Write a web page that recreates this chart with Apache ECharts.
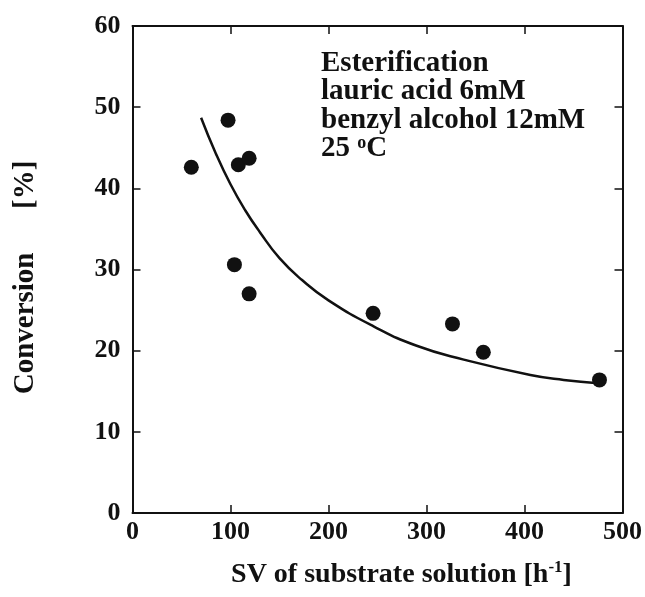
<!DOCTYPE html>
<html>
<head>
<meta charset="utf-8">
<script src="https://cdn.jsdelivr.net/npm/echarts@6/dist/echarts.min.js"></script>
<style>html,body{margin:0;padding:0;background:#fff}#c{width:645px;height:597px}</style>
</head>
<body>
<div id="c"></div>
<script>
// measured points: SV [h^-1], conversion [%]
const svValues = [60, 97.5, 108, 119, 104, 119, 245.5, 326.5, 358, 476.5];
const conversionValues = [42.6, 48.4, 42.9, 43.7, 30.6, 27.0, 24.6, 23.3, 19.8, 16.4];
// fitted curve
const curveSV = [70, 85, 100, 115, 130, 150, 173, 200, 246, 290, 338, 406, 440, 475];
const curveConv = [48.7, 44.3, 40.5, 37.3, 34.6, 31.4, 28.7, 26.2, 23.0, 20.6, 18.9, 17.0, 16.4, 16.0];
const xTicks = [0, 100, 200, 300, 400, 500];
const yTicks = [0, 10, 20, 30, 40, 50, 60];

const FONT = '"Liberation Serif", "Times New Roman", serif';
const chart = echarts.init(document.getElementById('c'), null, {renderer: 'canvas'});
const axisCommon = {
  axisLine: {show: true, onZero: false, lineStyle: {color: '#111', width: 2}},
  axisTick: {show: true, inside: true, length: 8, lineStyle: {color: '#111', width: 1.5}},
  splitLine: {show: false}
};
chart.setOption({
  animation: false,
  backgroundColor: '#fff',
  grid: {left: 132.5, right: 22.5, top: 26, bottom: 84},
  title: {
    text: 'Esterification\nlauric acid 6mM\nbenzyl alcohol 12mM\n25 {sup|o}C',
    left: 316, top: 44,
    textStyle: {
      fontFamily: FONT, fontWeight: 'bold', fontSize: 29, color: '#111', lineHeight: 28.5,
      rich: {sup: {fontFamily: FONT, fontWeight: 'bold', fontSize: 18, color: '#111', verticalAlign: 'top', lineHeight: 28.5, padding: [0, 0, 12, 0]}}
    }
  },
  xAxis: [Object.assign({
    type: 'value', min: xTicks[0], max: xTicks[xTicks.length - 1], interval: 100,
    position: 'bottom',
    name: 'SV of substrate solution [h{sup|-1}]',
    nameLocation: 'middle', nameGap: 46,
    nameTextStyle: {fontFamily: FONT, fontWeight: 'bold', fontSize: 28, color: '#111', padding: [0, 0, 0, 48],
      rich: {sup: {fontFamily: FONT, fontWeight: 'bold', fontSize: 17, color: '#111', verticalAlign: 'top', padding: [0, 0, 14, 0]}}},
    axisLabel: {fontFamily: FONT, fontWeight: 'bold', fontSize: 26, color: '#111', margin: 6}
  }, axisCommon), Object.assign({
    type: 'value', min: xTicks[0], max: xTicks[xTicks.length - 1], interval: 100,
    position: 'top', axisLabel: {show: false}
  }, axisCommon)],
  yAxis: [Object.assign({
    type: 'value', min: yTicks[0], max: yTicks[yTicks.length - 1], interval: 10,
    position: 'left',
    name: 'Conversion      [%]',
    nameLocation: 'middle', nameGap: 92, nameRotate: 90,
    nameTextStyle: {fontFamily: FONT, fontWeight: 'bold', fontSize: 29, color: '#111', padding: [0, 16, 0, 0]},
    axisLabel: {fontFamily: FONT, fontWeight: 'bold', fontSize: 26, color: '#111', margin: 12}
  }, axisCommon), Object.assign({
    type: 'value', min: yTicks[0], max: yTicks[yTicks.length - 1], interval: 10,
    position: 'right', axisLabel: {show: false}
  }, axisCommon)],
  series: [
    {
      type: 'line', data: curveSV.map((x, i) => [x, curveConv[i]]),
      smooth: true, showSymbol: false, symbol: 'none',
      lineStyle: {color: '#111', width: 2.5}, z: 2
    },
    {
      type: 'scatter', data: svValues.map((x, i) => [x, conversionValues[i]]),
      symbol: 'circle', symbolSize: 15,
      itemStyle: {color: '#111', opacity: 1}, z: 3
    }
  ]
});
</script>
</body>
</html>
